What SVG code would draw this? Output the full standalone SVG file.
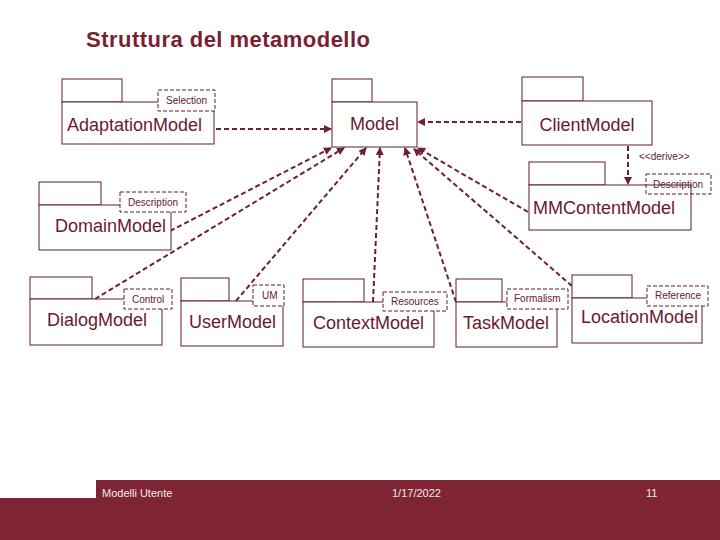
<svg xmlns="http://www.w3.org/2000/svg" width="720" height="540" viewBox="0 0 720 540">
<style>
.box{fill:#fff;stroke:#5e1c2e;stroke-width:1}
.lbl{fill:none;stroke:#5e1c2e;stroke-width:1;stroke-dasharray:4 2}
.lblw{fill:#fff;stroke:#5e1c2e;stroke-width:1;stroke-dasharray:4 2}
.name{font-family:"Liberation Sans",Arial,sans-serif;font-size:18px;fill:#6a1a30}
.small{font-family:"Liberation Sans",Arial,sans-serif;font-size:10px;fill:#5e1c2e}
.dep{fill:none;stroke:#6b2036;stroke-width:2;stroke-dasharray:5 3;marker-end:url(#arr)}
.foot{font-family:"Liberation Sans",Arial,sans-serif;font-size:11px;fill:#f3e8ea}
</style>
<defs>
<marker id="arr" viewBox="0 0 8 8" refX="7" refY="4" markerWidth="8" markerHeight="8" markerUnits="userSpaceOnUse" orient="auto">
<path d="M0,0 L8,4 L0,8 z" fill="#6b2036"/>
</marker>
</defs>
<rect width="720" height="540" fill="#fff"/>
<text x="86" y="47" font-family="'Liberation Sans',Arial,sans-serif" font-size="22" font-weight="bold" fill="#7a1f33" textLength="284">Struttura del metamodello</text>

<g id="connectors">
<line class="dep" x1="216" y1="129" x2="331" y2="129"/>
<line class="dep" x1="521" y1="122" x2="418" y2="122"/>
<line class="dep" x1="628" y1="146" x2="628" y2="184"/>
<line class="dep" x1="170" y1="231" x2="331" y2="148"/>
<line class="dep" x1="95" y1="299" x2="344" y2="148"/>
<line class="dep" x1="236" y1="301" x2="366" y2="148"/>
<line class="dep" x1="373" y1="302" x2="380" y2="148"/>
<line class="dep" x1="456" y1="302" x2="405" y2="148"/>
<line class="dep" x1="528" y1="212" x2="418" y2="148"/>
<line class="dep" x1="572" y1="286" x2="414" y2="149"/>
<text class="small" x="639" y="160" font-size="9">&lt;&lt;derive&gt;&gt;</text>
</g>

<g id="AdaptationModel">
<rect class="box" x="62" y="79" width="60" height="23"/>
<rect class="box" x="62" y="102" width="152" height="42"/>
<rect class="lblw" x="158" y="90" width="57" height="21"/>
<text class="small" x="166" y="104">Selection</text>
<text class="name" x="67" y="131">AdaptationModel</text>
</g>

<g id="Model">
<rect class="box" x="332" y="79" width="40" height="23"/>
<rect class="box" x="332" y="102" width="85" height="45"/>
<text class="name" x="374.5" y="130" text-anchor="middle">Model</text>
</g>

<g id="ClientModel">
<rect class="box" x="522" y="77" width="61" height="24"/>
<rect class="box" x="522" y="101" width="130" height="44"/>
<text class="name" x="587" y="131" text-anchor="middle">ClientModel</text>
</g>

<g id="MMContentModel">
<rect class="box" x="529" y="162" width="76" height="23"/>
<rect class="box" x="529" y="185" width="162" height="45"/>
<rect class="lbl" x="646" y="174" width="65" height="20"/>
<text class="small" x="653" y="188" font-size="9.5">Description</text>
<text class="name" x="533" y="214">MMContentModel</text>
</g>

<g id="DomainModel">
<rect class="box" x="39" y="182" width="62" height="23"/>
<rect class="box" x="39" y="205" width="132" height="45"/>
<rect class="lblw" x="120" y="192" width="66" height="20"/>
<text class="small" x="128" y="206">Description</text>
<text class="name" x="55" y="232">DomainModel</text>
</g>

<g id="DialogModel">
<rect class="box" x="30" y="277" width="62" height="22"/>
<rect class="box" x="30" y="299" width="132" height="46"/>
<rect class="lblw" x="124" y="289" width="48" height="20"/>
<text class="small" x="132" y="303">Control</text>
<text class="name" x="47" y="326">DialogModel</text>
</g>

<g id="UserModel">
<rect class="box" x="181" y="278" width="48" height="23"/>
<rect class="box" x="181" y="301" width="102" height="45"/>
<rect class="lblw" x="253" y="285" width="31" height="21"/>
<text class="small" x="262" y="299">UM</text>
<text class="name" x="189" y="328">UserModel</text>
</g>

<g id="ContextModel">
<rect class="box" x="303" y="279" width="61" height="23"/>
<rect class="box" x="303" y="302" width="131" height="45"/>
<rect class="lblw" x="383" y="292" width="64" height="19"/>
<text class="small" x="391" y="305">Resources</text>
<text class="name" x="313" y="329">ContextModel</text>
</g>

<g id="TaskModel">
<rect class="box" x="456" y="279" width="46" height="23"/>
<rect class="box" x="456" y="302" width="101" height="45"/>
<rect class="lblw" x="507" y="289" width="61" height="20"/>
<text class="small" x="514" y="302">Formalism</text>
<text class="name" x="463" y="329">TaskModel</text>
</g>

<g id="LocationModel">
<rect class="box" x="572" y="275" width="60" height="23"/>
<rect class="box" x="572" y="298" width="130" height="45"/>
<rect class="lblw" x="647" y="286" width="61" height="20"/>
<text class="small" x="655" y="299">Reference</text>
<text class="name" x="581" y="323">LocationModel</text>
</g>

<g id="footer">
<rect x="96" y="480" width="624" height="60" fill="#7f2434"/>
<rect x="0" y="498" width="720" height="42" fill="#7f2434"/>
<text class="foot" x="102" y="497">Modelli Utente</text>
<text class="foot" x="392" y="497">1/17/2022</text>
<text class="foot" x="646" y="497">11</text>
</g>
</svg>
